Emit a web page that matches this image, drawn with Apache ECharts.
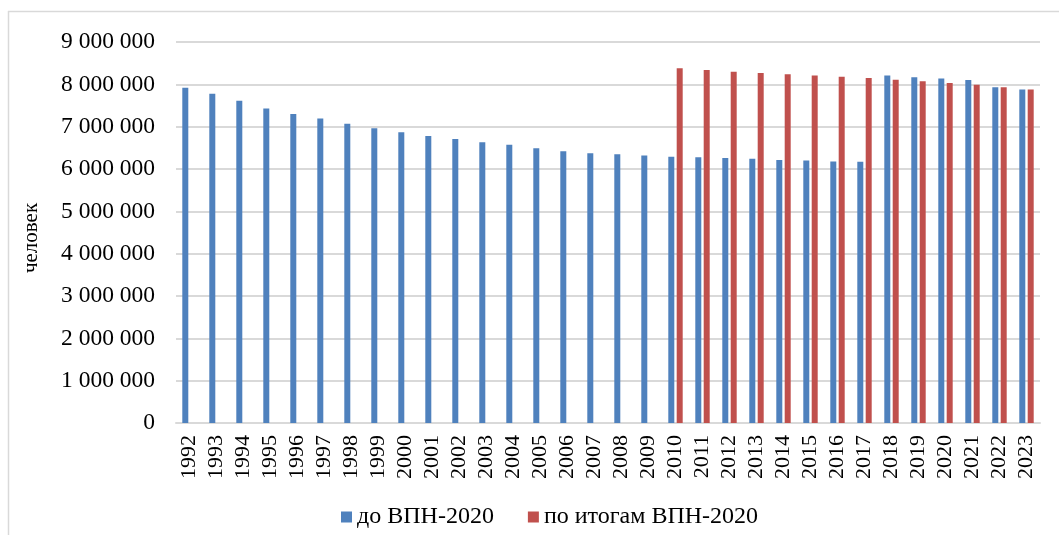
<!DOCTYPE html>
<html>
<head>
<meta charset="utf-8">
<script src="https://cdn.jsdelivr.net/npm/echarts@6/dist/echarts.min.js"></script>
<style>
  html, body { margin: 0; padding: 0; background: #fff; }
  #chart { width: 1059px; height: 535px; }
</style>
</head>
<body>
<div id="chart"></div>
<script>
const years = ['1992', '1993', '1994', '1995', '1996', '1997', '1998', '1999', '2000', '2001',
  '2002', '2003', '2004', '2005', '2006', '2007', '2008', '2009', '2010', '2011', '2012',
  '2013', '2014', '2015', '2016', '2017', '2018', '2019', '2020', '2021', '2022', '2023']

// до ВПН-2020
const beforeCensus = [7920000, 7780000, 7610000, 7430000, 7300000, 7190000, 7070000, 6960000,
  6870000, 6780000, 6710000, 6630000, 6570000, 6490000, 6420000, 6370000, 6350000, 6320000,
  6290000, 6280000, 6260000, 6240000, 6210000, 6200000, 6180000, 6170000,
  8210000, 8170000, 8140000, 8100000, 7930000, 7880000]

// по итогам ВПН-2020 (с 2010 года)
const afterCensus = [null, null, null, null, null, null, null, null, null, null, null, null,
  null, null, null, null, null, null,
  8380000, 8340000, 8300000, 8270000, 8240000, 8210000, 8180000, 8150000,
  8110000, 8070000, 8030000, 7990000, 7930000, 7880000]

const seriesNames = ['до ВПН-2020', 'по итогам ВПН-2020']

const font = '"Liberation Serif", "Times New Roman", serif'

const chart = echarts.init(document.getElementById('chart'))

chart.setOption({
  animation: false,
  textStyle: { fontFamily: font, color: '#000' },
  // рамка области диаграммы (видны только верх и левый край)
  graphic: [
    {
      type: 'line',
      shape: { x1: 8, y1: 11.5, x2: 1059, y2: 11.5 },
      style: { stroke: '#d9d9d9', lineWidth: 1.5 },
      silent: true
    },
    {
      type: 'line',
      shape: { x1: 8.5, y1: 11, x2: 8.5, y2: 535 },
      style: { stroke: '#d9d9d9', lineWidth: 1.5 },
      silent: true
    }
  ],
  grid: {
    left: 176,
    right: 19,
    top: 42,
    bottom: 112
  },
  legend: {
    bottom: 1,
    left: 336,
    itemWidth: 11,
    itemHeight: 11,
    itemGap: 34,
    icon: 'rect',
    textStyle: { fontFamily: font, fontSize: 24, color: '#000' },
    data: seriesNames
  },
  xAxis: {
    type: 'category',
    data: years,
    axisTick: { show: false },
    axisLine: { lineStyle: { color: '#d9d9d9', width: 2 } },
    axisLabel: {
      rotate: 90,
      interval: 0,
      margin: 12,
      fontFamily: font,
      fontSize: 22,
      color: '#000'
    }
  },
  yAxis: {
    type: 'value',
    min: 0,
    max: 9000000,
    interval: 1000000,
    name: 'человек',
    nameLocation: 'middle',
    nameGap: 134,
    nameTextStyle: { fontFamily: font, fontSize: 21, color: '#000', padding: [0, 11, 0, 0] },
    axisLine: { show: false },
    axisTick: { show: false },
    splitLine: { lineStyle: { color: '#d9d9d9', width: 2 } },
    axisLabel: {
      margin: 21,
      fontFamily: font,
      fontSize: 23.5,
      color: '#000',
      formatter: v => String(v).replace(/\B(?=(\d{3})+(?!\d))/g, ' ')
    }
  },
  series: [
    {
      name: seriesNames[0],
      type: 'bar',
      data: beforeCensus,
      barWidth: 6,
      barGap: '40%',
      itemStyle: { color: '#4f81bd' }
    },
    {
      name: seriesNames[1],
      type: 'bar',
      data: afterCensus,
      barWidth: 6,
      itemStyle: { color: '#c0504d' }
    }
  ]
})
</script>
</body>
</html>
